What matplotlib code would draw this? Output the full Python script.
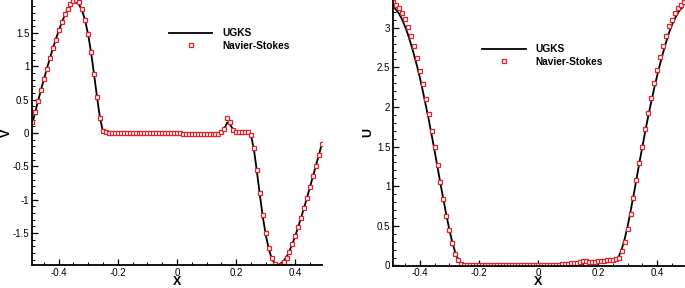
import matplotlib
matplotlib.use('Agg')
import matplotlib.pyplot as plt
from matplotlib.ticker import MultipleLocator, FuncFormatter

plt.rcParams['font.family'] = 'Liberation Sans'
plt.rcParams['axes.unicode_minus'] = False

# cell centres
x = [-0.49, -0.48, -0.47, -0.46, -0.45, -0.44, -0.43, -0.42, -0.41, -0.40,
     -0.39, -0.38, -0.37, -0.36, -0.35, -0.34, -0.33, -0.32, -0.31, -0.30,
     -0.29, -0.28, -0.27, -0.26, -0.25, -0.24, -0.23, -0.22, -0.21, -0.20,
     -0.19, -0.18, -0.17, -0.16, -0.15, -0.14, -0.13, -0.12, -0.11, -0.10,
     -0.09, -0.08, -0.07, -0.06, -0.05, -0.04, -0.03, -0.02, -0.01, 0.00,
     0.01, 0.02, 0.03, 0.04, 0.05, 0.06, 0.07, 0.08, 0.09, 0.10,
     0.11, 0.12, 0.13, 0.14, 0.15, 0.16, 0.17, 0.18, 0.19, 0.20,
     0.21, 0.22, 0.23, 0.24, 0.25, 0.26, 0.27, 0.28, 0.29, 0.30,
     0.31, 0.32, 0.33, 0.34, 0.35, 0.36, 0.37, 0.38, 0.39, 0.40,
     0.41, 0.42, 0.43, 0.44, 0.45, 0.46, 0.47, 0.48, 0.49]

# V velocity
v_ns = [0.16, 0.31, 0.48, 0.65, 0.81, 0.96, 1.12, 1.27, 1.40, 1.55,
        1.67, 1.78, 1.86, 1.93, 1.98, 1.99, 1.96, 1.86, 1.70, 1.49,
        1.22, 0.88, 0.54, 0.22, 0.03, 0.01, 0.005, 0.004, 0.003, 0.002,
        0.002, 0.001, 0.001, 0.0, 0.0, 0.0, 0.0, 0.0, -0.001, -0.001,
        -0.002, -0.002, -0.003, -0.003, -0.004, -0.004, -0.005, -0.005, -0.006, -0.006,
        -0.007, -0.008, -0.008, -0.009, -0.010, -0.011, -0.012, -0.013, -0.014, -0.015,
        -0.015, -0.015, -0.015, -0.01, 0.01, 0.066, 0.23, 0.16, 0.05, 0.02,
        0.015, 0.015, 0.015, 0.015, -0.025, -0.23, -0.55, -0.90, -1.23, -1.50,
        -1.72, -1.88, -1.97, -2.0, -1.98, -1.93, -1.87, -1.78, -1.67, -1.55,
        -1.41, -1.27, -1.12, -0.97, -0.81, -0.65, -0.49, -0.33, -0.16]
v_ugks = [0.12, 0.30, 0.47, 0.64, 0.80, 0.96, 1.11, 1.26, 1.40, 1.53,
          1.65, 1.76, 1.85, 1.92, 1.96, 1.96, 1.92, 1.83, 1.68, 1.47,
          1.20, 0.87, 0.53, 0.22, 0.02, 0.005, 0.005, 0.004, 0.003, 0.002,
          0.002, 0.001, 0.001, 0.0, 0.0, 0.0, 0.0, 0.0, -0.001, -0.001,
          -0.002, -0.002, -0.003, -0.003, -0.004, -0.004, -0.005, -0.005, -0.006, -0.006,
          -0.007, -0.008, -0.008, -0.009, -0.010, -0.011, -0.012, -0.013, -0.014, -0.015,
          -0.015, -0.015, -0.015, -0.01, 0.01, 0.07, 0.16, 0.12, 0.05, 0.02,
          0.015, 0.015, 0.015, 0.015, -0.04, -0.25, -0.58, -0.93, -1.26, -1.53,
          -1.74, -1.88, -1.96, -1.98, -1.96, -1.92, -1.86, -1.77, -1.66, -1.54,
          -1.40, -1.26, -1.11, -0.96, -0.80, -0.64, -0.48, -0.32, -0.15]

# U velocity
u_ns = [3.32, 3.29, 3.25, 3.19, 3.11, 3.01, 2.90, 2.77, 2.62, 2.46,
        2.29, 2.10, 1.91, 1.70, 1.49, 1.27, 1.05, 0.84, 0.63, 0.45,
        0.285, 0.15, 0.067, 0.017, 0.0, 0.0, 0.0, 0.0, 0.0, 0.0,
        0.0, 0.0, 0.0, 0.0, 0.0, 0.0, 0.0, 0.0, 0.0, 0.0,
        0.0, 0.0, 0.0, 0.0, 0.0, 0.0, 0.0, 0.0, 0.0, 0.0,
        0.0, 0.002, 0.002, 0.003, 0.004, 0.005, 0.008, 0.012, 0.016, 0.02,
        0.025, 0.03, 0.035, 0.043, 0.05, 0.055, 0.045, 0.04, 0.045, 0.05,
        0.058, 0.062, 0.063, 0.065, 0.068, 0.075, 0.10, 0.18, 0.30, 0.46,
        0.65, 0.85, 1.08, 1.29, 1.50, 1.72, 1.92, 2.11, 2.30, 2.47,
        2.63, 2.77, 2.90, 3.02, 3.10, 3.19, 3.25, 3.29, 3.32]
u_ugks = [3.27, 3.23, 3.18, 3.11, 3.02, 2.92, 2.80, 2.67, 2.53, 2.38,
          2.21, 2.03, 1.85, 1.65, 1.45, 1.24, 1.03, 0.83, 0.63, 0.45,
          0.29, 0.16, 0.07, 0.02, 0.005, 0.0, 0.0, 0.0, 0.0, 0.0,
          0.0, 0.0, 0.0, 0.0, 0.0, 0.0, 0.0, 0.0, 0.0, 0.0,
          0.0, 0.0, 0.0, 0.0, 0.0, 0.0, 0.0, 0.0, 0.0, 0.0,
          0.0, 0.001, 0.002, 0.003, 0.004, 0.005, 0.007, 0.009, 0.012, 0.015,
          0.018, 0.021, 0.025, 0.03, 0.035, 0.04, 0.038, 0.036, 0.04, 0.045,
          0.05, 0.053, 0.055, 0.057, 0.06, 0.07, 0.11, 0.20, 0.33, 0.49,
          0.68, 0.88, 1.09, 1.30, 1.50, 1.70, 1.89, 2.07, 2.24, 2.40,
          2.55, 2.69, 2.82, 2.94, 3.04, 3.12, 3.19, 3.24, 3.27]

red = '#e0202a'
fmt = FuncFormatter(lambda v, p: '%g' % round(v, 3))

fig = plt.figure(figsize=(6.85, 2.88), dpi=100)
ax1 = fig.add_axes([0.0467, 0.08, 0.4234, 0.92])
ax2 = fig.add_axes([0.5737, 0.0775, 0.4248, 0.9225])


def setup(ax, ylab, ymaj, ymin_, ylim, leg_anchor):
    ax.set_xlim(-0.49, 0.49)
    ax.set_ylim(*ylim)
    for s in ['top', 'right']:
        ax.spines[s].set_visible(False)
    for s in ['left', 'bottom']:
        ax.spines[s].set_linewidth(1.3)
    ax.xaxis.set_major_locator(MultipleLocator(0.2))
    ax.xaxis.set_minor_locator(MultipleLocator(0.05))
    ax.yaxis.set_major_locator(MultipleLocator(ymaj))
    ax.yaxis.set_minor_locator(MultipleLocator(ymin_))
    ax.xaxis.set_major_formatter(fmt)
    ax.yaxis.set_major_formatter(fmt)
    ax.tick_params(which='major', direction='in', length=4.3, width=0.9,
                   labelsize=7, pad=2, top=False, right=False)
    ax.tick_params(which='minor', direction='in', length=2.4, width=0.7,
                   top=False, right=False)
    ax.set_xlabel('X', fontsize=9, fontweight='bold')
    ax.set_ylabel(ylab, fontsize=9, fontweight='bold')
    ax.xaxis.set_label_coords(0.5, -0.04)
    ax.yaxis.set_label_coords(-0.066, 0.5)
    ax.legend(loc='upper left', bbox_to_anchor=leg_anchor, frameon=False,
              prop=dict(weight='bold', size=7.3), handlelength=4.3,
              handletextpad=1.0, labelspacing=0.25, borderpad=0,
              borderaxespad=0, numpoints=1)


ax1.plot(x, v_ugks, color='black', lw=1.3, label='UGKS')
ax1.plot(x, v_ns, ls='none', marker='s', ms=3.0, mfc='white', mec=red,
         mew=0.9, label='Navier-Stokes')
setup(ax1, 'V', 0.5, 0.1, (-1.98, 1.995), (0.472, 0.894))

ax2.plot(x, u_ugks, color='black', lw=1.3, label='UGKS')
ax2.plot(x, u_ns, ls='none', marker='s', ms=3.0, mfc='white', mec=red,
         mew=0.9, label='Navier-Stokes')
setup(ax2, 'U', 0.5, 0.1, (-0.003, 3.35), (0.306, 0.834))

fig.savefig('out.png', dpi=100)
